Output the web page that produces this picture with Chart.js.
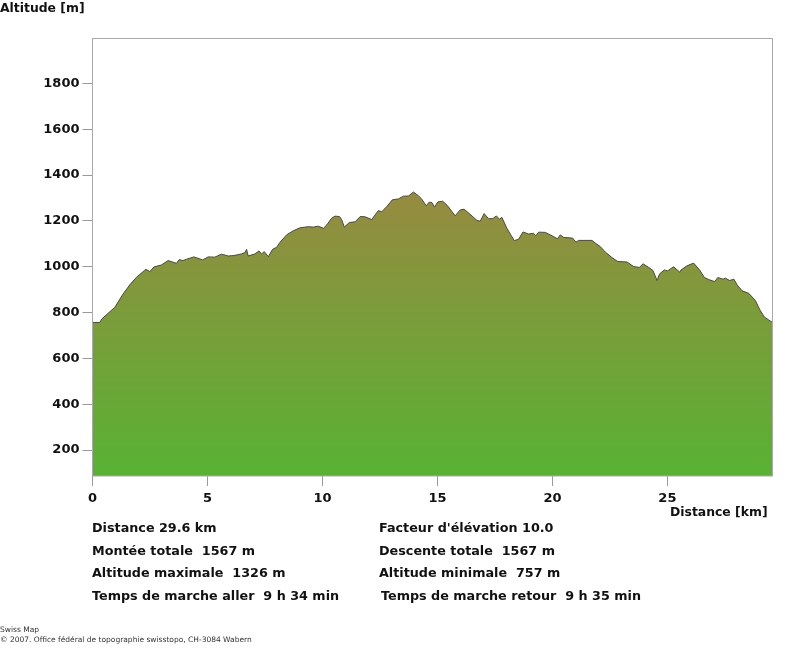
<!DOCTYPE html>
<html lang="fr">
<head>
    <meta charset="UTF-8">
    <title>Profil d'altitude</title>
    <script src="https://cdn.jsdelivr.net/npm/chart.js"></script>
    <style>
        body { margin: 0; background: #fff; width: 800px; height: 655px; overflow: hidden; position: relative; font-family: "DejaVu Sans", sans-serif; color: #111; }
        canvas { position: absolute; left: 0; top: 0; }
        .txt { position: absolute; white-space: pre; font-weight: bold; font-size: 12.75px; line-height: 16px; }
        .axe { font-size: 12.4px; }
        .small { position: absolute; white-space: pre; font-size: 7.5px; line-height: 9px; color: #333; }
    </style>
</head>
<body>
    <canvas id="profil" width="800" height="655"></canvas>
    <div class="txt axe" style="left:0px;top:0px">Altitude [m]</div>
    <div class="txt axe" style="left:670px;top:504px">Distance [km]</div>
    <div id="stats"></div>
    <div class="small" style="left:0px;top:625px">Swiss Map</div>
    <div class="small" style="left:0px;top:635px">© 2007. Office fédéral de topographie swisstopo, CH-3084 Wabern</div>

    <script>
        const distanceKm = [
            0, 0.32, 0.40, 0.68, 0.97, 1.33, 1.62, 1.91, 2.32, 2.49, 2.67, 3.00, 3.29, 3.65, 3.77, 3.94, 4.09, 4.41, 4.79, 5.03,
            5.32, 5.61, 5.90, 6.15, 6.48, 6.63, 6.70, 6.77, 7.06, 7.24, 7.35, 7.47, 7.65, 7.83, 8.01, 8.15, 8.44, 8.73, 9.02, 9.39,
            9.60, 9.82, 10.04, 10.19, 10.40, 10.55, 10.74, 10.84, 10.95, 11.17, 11.42, 11.64, 11.85, 12.14, 12.43, 12.58, 12.80, 13.04, 13.30, 13.52,
            13.74, 13.96, 14.18, 14.32, 14.51, 14.64, 14.76, 14.87, 15.02, 15.23, 15.44, 15.63, 15.77, 15.99, 16.16, 16.42, 16.72, 16.86, 17.03, 17.22,
            17.41, 17.56, 17.70, 17.80, 18.02, 18.19, 18.34, 18.53, 18.72, 18.96, 19.18, 19.28, 19.40, 19.69, 19.91, 20.22, 20.34, 20.49, 20.88, 21.02,
            21.14, 21.72, 21.91, 22.08, 22.30, 22.59, 22.84, 23.24, 23.53, 23.78, 23.94, 24.19, 24.37, 24.55, 24.66, 24.87, 25.01, 25.27, 25.54, 25.59,
            25.85, 26.14, 26.40, 26.61, 26.80, 27.06, 27.19, 27.42, 27.52, 27.71, 27.89, 28.03, 28.25, 28.54, 28.83, 29.02, 29.22, 29.57
        ];
        const altitudeM = [
            757, 757, 772, 797, 823, 881, 921, 954, 989, 979, 999, 1008, 1027, 1015, 1031, 1027, 1033, 1043, 1030, 1043,
            1042, 1055, 1047, 1049, 1056, 1062, 1076, 1047, 1056, 1069, 1056, 1066, 1044, 1076, 1085, 1106, 1139, 1157, 1170, 1175,
            1173, 1177, 1168, 1183, 1212, 1221, 1219, 1205, 1173, 1193, 1196, 1219, 1218, 1206, 1245, 1240, 1263, 1292, 1296, 1308,
            1309, 1326, 1309, 1295, 1266, 1282, 1280, 1261, 1283, 1286, 1266, 1241, 1222, 1248, 1251, 1229, 1202, 1199, 1232, 1210,
            1210, 1222, 1207, 1216, 1168, 1139, 1114, 1120, 1152, 1143, 1146, 1135, 1151, 1150, 1139, 1122, 1139, 1128, 1125, 1107,
            1115, 1115, 1100, 1088, 1064, 1040, 1023, 1021, 1001, 997, 1013, 997, 984, 940, 969, 986, 982, 1000, 976, 986,
            1004, 1016, 986, 953, 944, 935, 953, 946, 950, 940, 946, 921, 895, 884, 852, 812, 780, 757
        ];
        const xTicks = [0, 5, 10, 15, 20, 25];
        const yTicks = [200, 400, 600, 800, 1000, 1200, 1400, 1600, 1800];
        const leftStats = ['Distance 29.6 km', 'Montée totale  1567 m', 'Altitude maximale  1326 m', 'Temps de marche aller  9 h 34 min'];
        const rightStats = ["Facteur d'élévation 10.0", 'Descente totale  1567 m', 'Altitude minimale  757 m', 'Temps de marche retour  9 h 35 min'];
        const statsTop = [520, 543, 565, 588];

        var statsBox = document.getElementById('stats');
        function addStat(text, left, top) {
            var d = document.createElement('div');
            d.className = 'txt';
            d.style.left = left + 'px';
            d.style.top = top + 'px';
            d.textContent = text;
            statsBox.appendChild(d);
        }
        leftStats.forEach((t, i) => addStat(t, 92, statsTop[i]));
        rightStats.forEach((t, i) => addStat(t, i == 3 ? 381 : 379, statsTop[i]));

        // cadre gris autour du graphique
        const cadre = {
            id: 'cadre',
            afterDatasetsDraw(chart) {
                var a = chart.chartArea, c = chart.ctx;
                c.save();
                c.strokeStyle = '#aaaaaa';
                c.lineWidth = 1;
                c.strokeRect(a.left, a.top, a.right - a.left, a.bottom - a.top);
                c.restore();
            }
        };

        var ctx = document.getElementById('profil').getContext('2d');
        var profil = new Chart(ctx, {
            type: 'line',
            data: {
                datasets: [{
                    data: distanceKm.map((x, i) => ({ x: x, y: altitudeM[i] })),
                    borderColor: '#4a4a3a',
                    borderWidth: 1,
                    pointRadius: 0,
                    tension: 0,
                    fill: 'start',
                    backgroundColor: function (context) {
                        var chart = context.chart;
                        if (!chart.chartArea) return '#7f9a40';
                        var g = chart.ctx.createLinearGradient(0, chart.scales.y.getPixelForValue(1326), 0, chart.chartArea.bottom);
                        g.addColorStop(0, '#968b40');
                        g.addColorStop(1, '#58b233');
                        return g;
                    }
                }]
            },
            options: {
                responsive: false,
                animation: false,
                devicePixelRatio: 1,
                layout: { padding: { top: 38.5, right: 27.5, bottom: 0, left: 0 } },
                plugins: { legend: { display: false }, tooltip: { enabled: false } },
                scales: {
                    x: {
                        type: 'linear',
                        min: 0,
                        max: 29.57,
                        afterBuildTicks: function (s) { s.ticks = xTicks.map(v => ({ value: v })); },
                        afterFit: function (s) { s.height = 179; },
                        grid: { drawOnChartArea: false, color: '#999999', tickLength: 10 },
                        border: { display: false },
                        ticks: { color: '#111', padding: 5, maxRotation: 0, callback: v => String(v), font: { family: 'DejaVu Sans', size: 13, weight: 'bold' } }
                    },
                    y: {
                        min: 87,
                        max: 1996,
                        afterBuildTicks: function (s) { s.ticks = yTicks.map(v => ({ value: v })); },
                        afterFit: function (s) { s.width = 92.5; },
                        grid: { drawOnChartArea: false, color: '#999999', tickLength: 10 },
                        border: { display: false },
                        ticks: { color: '#111', padding: 3, callback: v => String(v), font: { family: 'DejaVu Sans', size: 13, weight: 'bold' } }
                    }
                }
            },
            plugins: [cadre]
        });
    </script>
</body>
</html>
